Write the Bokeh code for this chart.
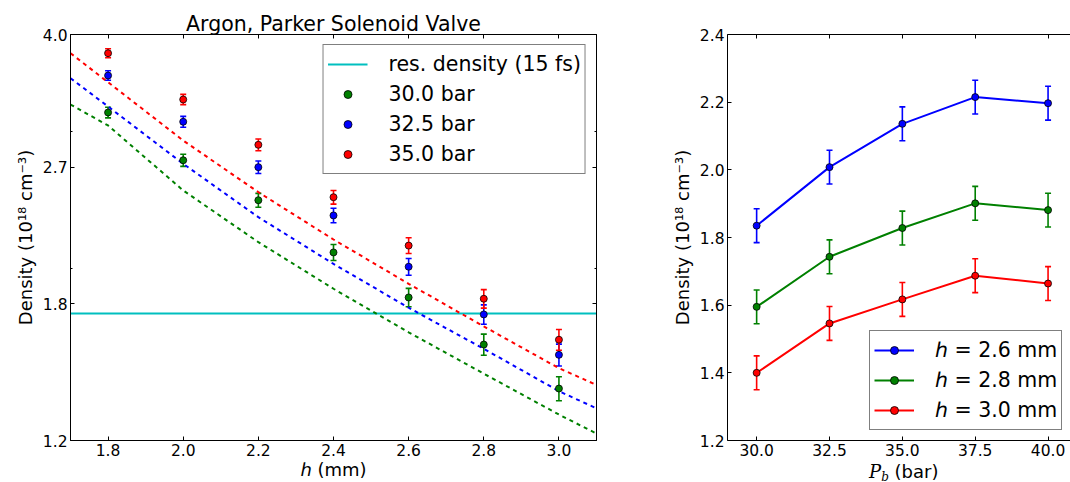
from bokeh.plotting import figure
from bokeh.layouts import row, column
from bokeh.models import (ColumnDataSource, Whisker, TeeHead, FixedTicker, PrintfTickFormatter,
                          CustomJSTickFormatter, LinearAxis, LogAxis, Legend, LegendItem, Range1d, Div)
from bokeh.embed import file_html
from bokeh.resources import INLINE

FONT = "DejaVu Sans"
TICK_FS = "15.5px"
LABEL_FS = "18px"
LEGEND_FS = "20.5px"
BLUE, GREEN, RED, CYAN = "#0000ff", "#008000", "#ff0000", "#00bfbf"

# ---------------- data: left panel (density vs nozzle height) ----------------
h_mm = [1.8, 2.0, 2.2, 2.4, 2.6, 2.8, 3.0]
dens_30bar = [3.174, 2.755, 2.447, 2.096, 1.834, 1.595, 1.400]
dens_325bar = [3.542, 3.088, 2.699, 2.339, 2.009, 1.744, 1.547]
dens_35bar = [3.784, 3.299, 2.884, 2.469, 2.139, 1.827, 1.618]
err_left = [0.05, 0.05, 0.05, 0.05, 0.05, 0.05, 0.05]
h_fit = [1.7, 1.8, 2.0, 2.2, 2.4, 2.6, 2.8, 3.0, 3.1]
fit_30bar = [3.250, 3.054, 2.519, 2.161, 1.882, 1.654, 1.463, 1.296, 1.225]
fit_325bar = [3.514, 3.231, 2.726, 2.327, 2.026, 1.779, 1.575, 1.389, 1.320]
fit_35bar = [3.784, 3.472, 2.921, 2.506, 2.178, 1.910, 1.683, 1.487, 1.415]
res_density = [1.75]
left_xticks = [1.8, 2.0, 2.2, 2.4, 2.6, 2.8, 3.0]
left_yticks = [1.2, 1.8, 2.7, 4.0]
left_yminor = [2.0, 3.0]
pressure_labels = ["30.0 bar", "32.5 bar", "35.0 bar"]
res_label = "res. density (15 fs)"
left_title = "Argon, Parker Solenoid Valve"

# ---------------- data: right panel (density vs backing pressure) ----------------
pb_bar = [30.0, 32.5, 35.0, 37.5, 40.0]
dens_h26 = [1.835, 2.008, 2.136, 2.215, 2.197]
dens_h28 = [1.595, 1.743, 1.828, 1.901, 1.881]
dens_h30 = [1.400, 1.546, 1.617, 1.687, 1.664]
err_right = [0.05, 0.05, 0.05, 0.05, 0.05]
right_xticks = [30.0, 32.5, 35.0, 37.5, 40.0]
right_yticks = [1.2, 1.4, 1.6, 1.8, 2.0, 2.2, 2.4]
h_labels = ["\u210e = 2.6 mm", "\u210e = 2.8 mm", "\u210e = 3.0 mm"]

y_label = "Density (10\u00b9\u2078 cm\u207b\u00b3)"


def style_axis(ax, labels=True):
    ax.axis_line_color = "black"
    ax.axis_line_width = 1
    ax.major_tick_in = 4
    ax.major_tick_out = 0
    ax.minor_tick_in = 2
    ax.minor_tick_out = 0
    ax.major_tick_line_color = "black"
    ax.minor_tick_line_color = "black"
    ax.major_label_text_font = FONT
    ax.major_label_text_font_size = TICK_FS
    ax.major_label_text_color = "black"
    ax.major_label_standoff = 3
    ax.axis_label_text_font = FONT
    ax.axis_label_text_font_size = LABEL_FS
    ax.axis_label_text_font_style = "normal"
    ax.axis_label_text_color = "black"
    ax.axis_label_standoff = 0
    if not labels:
        ax.formatter = CustomJSTickFormatter(code="return ''")
        ax.major_label_text_font_size = "0px"
        ax.major_label_standoff = 0


def errorbars(p, x, y, err, color):
    src = ColumnDataSource(dict(x=x,
                                lo=[a - b for a, b in zip(y, err)],
                                hi=[a + b for a, b in zip(y, err)]))
    w = Whisker(source=src, base="x", lower="lo", upper="hi", dimension="height",
                line_color=color, line_width=1.6, level="underlay",
                upper_head=TeeHead(size=6, line_color=color, line_width=1.6),
                lower_head=TeeHead(size=6, line_color=color, line_width=1.6))
    p.add_layout(w)


def style_legend(leg):
    leg.label_text_font = FONT
    leg.label_text_font_size = LEGEND_FS
    leg.label_text_color = "black"
    leg.border_line_color = "black"
    leg.border_line_width = 1
    leg.background_fill_color = "white"
    leg.background_fill_alpha = 1
    leg.glyph_width = 40
    leg.glyph_height = 20
    leg.label_height = 30
    leg.spacing = 0
    leg.padding = 4
    leg.label_standoff = 21


# ======================= left figure =======================
p1 = figure(width=660, height=482, x_range=Range1d(1.7, 3.1), y_range=Range1d(1.2, 4.0),
            y_axis_type="log", output_backend="svg", toolbar_location=None,
            min_border_left=70, min_border_right=64, min_border_top=34, min_border_bottom=42)
p1.outline_line_color = "black"
p1.grid.grid_line_color = None
p1.background_fill_color = "white"
p1.border_fill_color = "white"
p1.title.text = left_title
p1.title.align = "center"
p1.title.text_font = FONT
p1.title.text_font_size = "20.5px"
p1.title.text_font_style = "normal"
p1.title.text_color = "black"
p1.title.standoff = -3

p1.xaxis.ticker = FixedTicker(ticks=left_xticks)
p1.xaxis.formatter = PrintfTickFormatter(format="%.1f")
p1.yaxis.ticker = FixedTicker(ticks=left_yticks, minor_ticks=left_yminor)
p1.yaxis.formatter = PrintfTickFormatter(format="%.1f")
for ax in p1.xaxis + p1.yaxis:
    style_axis(ax)
p1.xaxis.axis_label = "\u210e (mm)"
p1.yaxis.axis_label = y_label
p1.yaxis.axis_label_standoff = 4

top1 = LinearAxis(ticker=FixedTicker(ticks=left_xticks))
style_axis(top1, labels=False)
p1.add_layout(top1, "above")
right1 = LogAxis(ticker=FixedTicker(ticks=left_yticks, minor_ticks=left_yminor))
style_axis(right1, labels=False)
p1.add_layout(right1, "right")

r_res = p1.hspan(y=res_density, line_color=CYAN, line_width=2)

fit_colors = [GREEN, BLUE, RED]
for fit, c in zip([fit_30bar, fit_325bar, fit_35bar], fit_colors):
    p1.line(h_fit, fit, line_color=c, line_width=2, line_dash="4 4")

items = [LegendItem(label=res_label, renderers=[r_res])]
for dens, c, lab in zip([dens_30bar, dens_325bar, dens_35bar], fit_colors, pressure_labels):
    errorbars(p1, h_mm, dens, err_left, c)
    r = p1.scatter(h_mm, dens, size=7, fill_color=c, line_color="black", line_width=0.8)
    items.append(LegendItem(label=lab, renderers=[r]))

leg1 = Legend(items=items, location="top_right")
style_legend(leg1)
leg1.margin = 10
p1.add_layout(leg1)

# ======================= right figure =======================
p2 = figure(width=410, height=462, x_range=Range1d(29.0, 40.77), y_range=Range1d(1.2, 2.4),
            output_backend="svg", toolbar_location=None,
            min_border_left=67, min_border_right=0, min_border_top=34, min_border_bottom=22)
p2.outline_line_color = None
p2.grid.grid_line_color = None
p2.xaxis.ticker = FixedTicker(ticks=right_xticks)
p2.xaxis.formatter = PrintfTickFormatter(format="%.1f")
p2.yaxis.ticker = FixedTicker(ticks=right_yticks)
p2.yaxis.formatter = PrintfTickFormatter(format="%.1f")
for ax in p2.xaxis + p2.yaxis:
    style_axis(ax)
p2.yaxis.axis_label = y_label
p2.yaxis.axis_label_standoff = 4
top2 = LinearAxis(ticker=FixedTicker(ticks=right_xticks))
style_axis(top2, labels=False)
p2.add_layout(top2, "above")

items2 = []
for dens, c, lab in zip([dens_h26, dens_h28, dens_h30], [BLUE, GREEN, RED], h_labels):
    errorbars(p2, pb_bar, dens, err_right, c)
    rl = p2.line(pb_bar, dens, line_color=c, line_width=2)
    rs = p2.scatter(pb_bar, dens, size=7, fill_color=c, line_color="black", line_width=0.8)
    items2.append(LegendItem(label=lab, renderers=[rl, rs]))

leg2 = Legend(items=items2, location=(142, 10))
style_legend(leg2)
p2.add_layout(leg2)

# x-axis label  P_b (bar)  as real HTML text under the right panel
xlabel2 = Div(
    text=('<div style="font-family:\'DejaVu Sans\'; font-size:18px; line-height:20px; '
          'color:black; white-space:nowrap; padding-left:209px;">'
          '<i style="font-family:\'DejaVu Serif\';">P</i>'
          '<sub style="font-family:\'DejaVu Serif\'; font-style:italic; font-size:12px; '
          'line-height:0; vertical-align:-3px;">b</sub> (bar)</div>'),
    width=410, height=20, margin=(0, 0, 0, 0))

layout = row(p1, column(p2, xlabel2, spacing=0), spacing=0)
open("out.html", "w").write(file_html(layout, INLINE))
